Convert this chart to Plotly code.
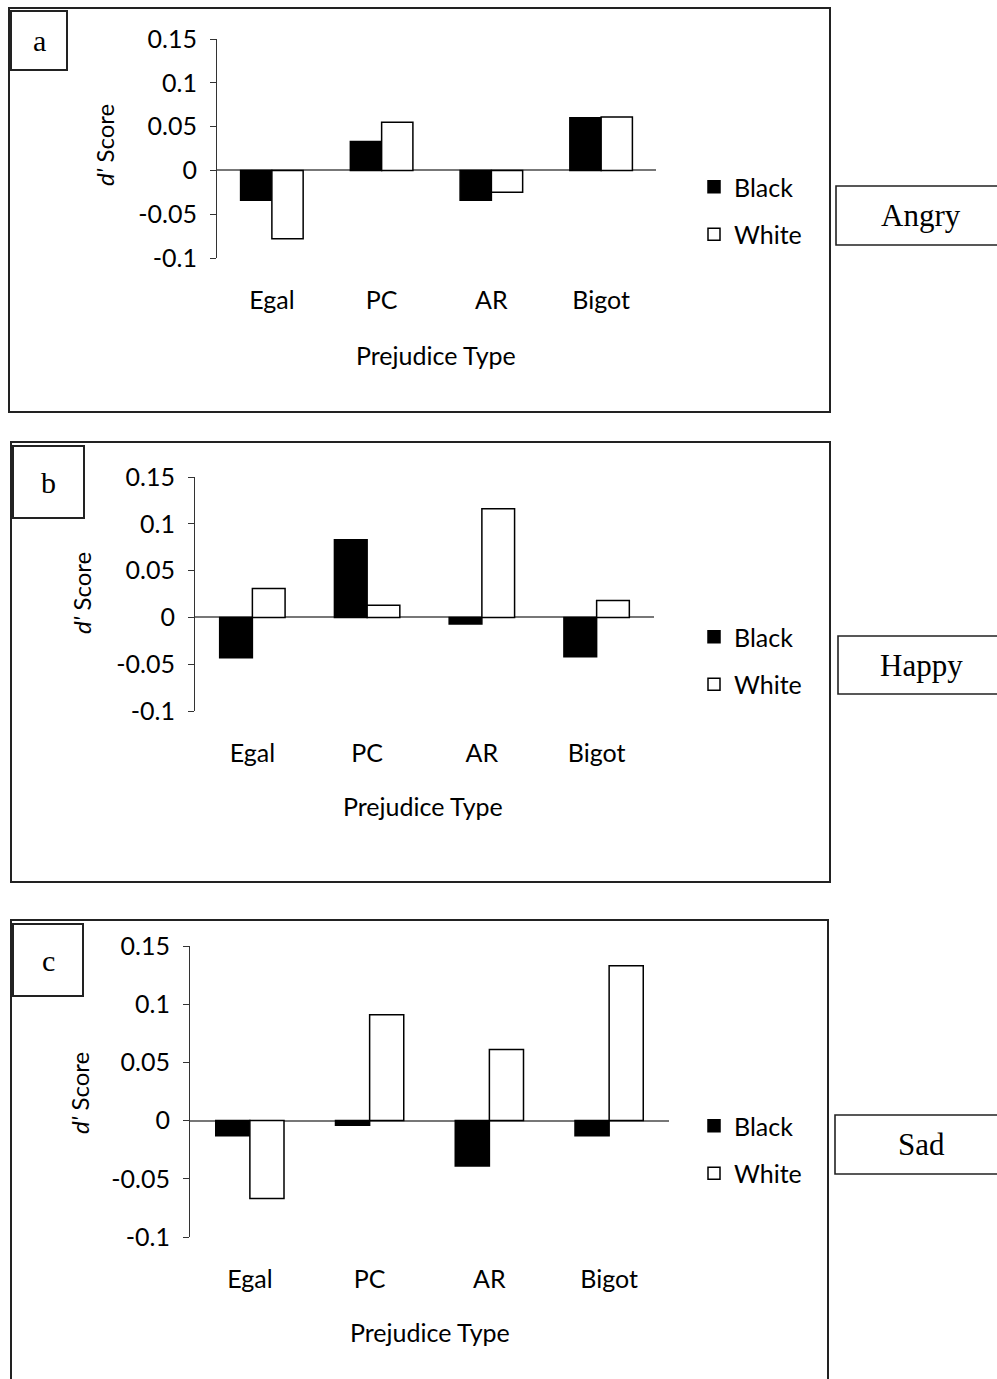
import plotly.graph_objects as go

W, H = 997, 1379

categories = ["Egal", "PC", "AR", "Bigot"]
series_names = ["Black", "White"]

angry_black = [-0.034, 0.033, -0.034, 0.060]
angry_white = [-0.078, 0.055, -0.025, 0.061]

happy_black = [-0.043, 0.083, -0.007, -0.042]
happy_white = [0.031, 0.013, 0.116, 0.018]

sad_black = [-0.013, -0.004, -0.039, -0.013]
sad_white = [-0.067, 0.091, 0.061, 0.133]

panel_letters = ["a", "b", "c"]
emotions = ["Angry", "Happy", "Sad"]
y_ticks = [-0.1, -0.05, 0, 0.05, 0.1, 0.15]
y_ticktext = ["-0.1", "-0.05", "0", "0.05", "0.1", "0.15"]
y_title = "<i>d'</i> Score"
x_title = "Prejudice Type"

panel_data = [(angry_black, angry_white), (happy_black, happy_white), (sad_black, sad_white)]

# layout geometry in pixels
plot_boxes = [  # x0, x1, y_top(0.15), y_bottom(-0.1)
    (217, 656, 39, 258),
    (195, 654, 477, 711),
    (190, 669, 946, 1237),
]
outer_boxes = [(9, 830, 8, 412), (11, 830, 442, 882), (11, 828, 920, 1390)]
letter_boxes = [(11, 67, 11, 70), (13, 84, 446, 518), (13, 83, 924, 996)]
emotion_boxes = [(836, 1010, 186, 245), (838, 1010, 636, 694), (835, 1010, 1115, 1174)]
legend_pos = [(694, 164), (694, 614), (694, 1103)]
ytitle_pos = [(105, 145), (82, 593), (79, 1093)]
xtitle_pos = [(436, 355), (423, 806), (430, 1332)]

def px(x):
    return x / W

def py(y):
    return 1 - y / H

FONT = "Lato"
SERIF = "Liberation Serif"
FS = 25

fig = go.Figure()
shapes = []
annotations = []
layout = {}

for i, (bvals, wvals) in enumerate(panel_data):
    n = "" if i == 0 else str(i + 1)
    xa, ya = "x" + n, "y" + n
    leg = "legend" if i == 0 else "legend" + str(i + 1)
    fig.add_trace(go.Bar(x=categories, y=bvals, name=series_names[0], xaxis=xa, yaxis=ya,
                         marker=dict(color="black", line=dict(color="black", width=1.5)),
                         legend=leg, legendgroup="b" + n))
    fig.add_trace(go.Bar(x=categories, y=wvals, name=series_names[1], xaxis=xa, yaxis=ya,
                         marker=dict(color="white", line=dict(color="black", width=1.5)),
                         legend=leg, legendgroup="w" + n))
    x0, x1, yt, yb = plot_boxes[i]
    layout["xaxis" + n] = dict(domain=[px(x0), px(x1)], anchor=ya, showline=False, ticks="",
                               showgrid=False, automargin=False,
                               tickfont=dict(family=FONT, size=FS, color="black"),
                               ticklabelstandoff=25)
    layout["yaxis" + n] = dict(domain=[py(yb), py(yt)], anchor=xa, range=[-0.1, 0.15],
                               tickvals=y_ticks, ticktext=y_ticktext, showgrid=False,
                               automargin=False,
                               showline=True, linecolor="#333", linewidth=1.2,
                               ticks="outside", ticklen=6, tickcolor="#333",
                               zeroline=True, zerolinecolor="#777", zerolinewidth=2,
                               tickfont=dict(family=FONT, size=FS, color="black"),
                               ticklabelstandoff=8)
    lx, ly = legend_pos[i]
    layout[leg] = dict(x=px(lx), y=py(ly), xanchor="left", yanchor="top",
                       font=dict(family=FONT, size=FS, color="black"),
                       bgcolor="rgba(0,0,0,0)", tracegroupgap=12, itemwidth=30)
    for (a0, a1, b0, b1), lw in [(outer_boxes[i], 2), (letter_boxes[i], 2), (emotion_boxes[i], 1.6)]:
        shapes.append(dict(type="rect", xref="paper", yref="paper", x0=px(a0), x1=px(a1),
                           y0=py(b1), y1=py(b0), line=dict(color="#222", width=lw)))
    common = dict(xref="paper", yref="paper", showarrow=False, xanchor="center", yanchor="middle")
    a0, a1, b0, b1 = letter_boxes[i]
    annotations.append(dict(text=panel_letters[i], x=px((a0 + a1) / 2), y=py((b0 + b1) / 2),
                            font=dict(family=SERIF, size=30, color="black"), **common))
    e0, e1, f0, f1 = emotion_boxes[i]
    annotations.append(dict(text=emotions[i], x=px(921), y=py((f0 + f1) / 2),
                            font=dict(family=SERIF, size=31, color="black"), **common))
    tx, ty = ytitle_pos[i]
    annotations.append(dict(text=y_title, x=px(tx), y=py(ty), textangle=-90,
                            font=dict(family=FONT, size=24, color="black"), **common))
    tx, ty = xtitle_pos[i]
    annotations.append(dict(text=x_title, x=px(tx), y=py(ty),
                            font=dict(family=FONT, size=FS, color="black"), **common))

fig.update_layout(width=W, height=H, margin=dict(l=0, r=0, t=0, b=0, autoexpand=False),
                  paper_bgcolor="white", plot_bgcolor="white",
                  barmode="group", bargap=0.43, bargroupgap=0,
                  shapes=shapes, annotations=annotations, **layout)

fig.write_html("out.html", config={"displayModeBar": False},
               post_script="document.body.style.margin='0';")
